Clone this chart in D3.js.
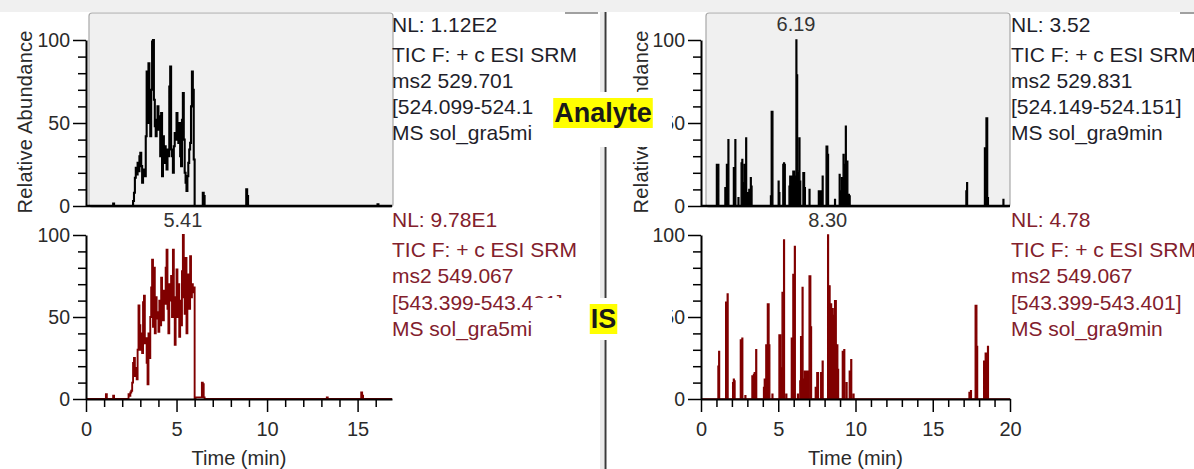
<!DOCTYPE html>
<html><head><meta charset="utf-8">
<script src="https://cdn.jsdelivr.net/npm/d3@7"></script>
<style>
body{margin:0;background:#fff;}
svg{display:block;font-family:"Liberation Sans",Arial,sans-serif;}
</style>
</head><body>
<svg id="c" width="1194" height="469"></svg>
<script>
// ---------------- DATA ----------------
const yTickValues = [0, 50, 100];
const xTicksLeft = [0, 5, 10, 15];
const xTicksRight = [0, 5, 10, 15, 20];
const xMaxLeft = 16.9;
const xMaxRight = 20;

// [time (min), relative abundance (%)]
const analyte5 = [[0,0],[1.45,0],[1.5,1.5],[1.55,0],[2.55,0],
 [2.6,3],[2.65,8],[2.7,17],[2.75,23],[2.8,19],[2.85,26],[2.9,21],[2.95,30],[3.0,32],[3.05,24],
 [3.1,14],[3.15,20],[3.2,22],[3.25,18],[3.3,42],[3.35,81],[3.4,50],[3.45,86],[3.5,60],[3.55,42],
 [3.6,70],[3.65,99],[3.7,100],[3.75,64],[3.8,48],[3.85,42],[3.9,52],[3.95,60],[4.0,46],[4.05,54],
 [4.1,30],[4.15,56],[4.2,18],[4.25,42],[4.3,26],[4.35,36],[4.4,30],[4.45,22],[4.5,34],[4.55,30],
 [4.6,72],[4.65,84],[4.7,34],[4.75,30],[4.8,20],[4.85,36],[4.9,44],[4.95,40],[5.0,56],[5.05,46],
 [5.1,38],[5.15,50],[5.2,30],[5.25,24],[5.3,52],[5.35,68],[5.4,40],[5.45,20],[5.5,14],[5.55,9],
 [5.6,18],[5.65,26],[5.7,34],[5.75,38],[5.8,60],[5.85,81],[5.9,70],[5.95,28],[6.0,0],
 [6.4,0],[6.45,8],[6.5,6],[6.55,0],[8.8,0],[8.85,10],[8.9,6],[8.95,0],
 [16.05,0],[16.1,1],[16.15,0],[16.9,0]];

const is5 = [[0,0],[1.05,0],[1.1,3],[1.15,0],[1.45,0],[1.5,2],[1.55,0],[2.3,0],
 [2.35,3],[2.4,2],[2.45,4],[2.5,5],[2.55,10],[2.6,22],[2.65,25],[2.7,14],[2.75,19],[2.8,12],
 [2.85,30],[2.9,57],[2.95,45],[3.0,30],[3.05,40],[3.1,28],[3.15,59],[3.2,63],[3.25,34],[3.3,37],
 [3.35,22],[3.4,9],[3.45,40],[3.5,25],[3.55,50],[3.6,68],[3.65,85],[3.7,44],[3.75,80],[3.8,40],
 [3.85,62],[3.9,49],[3.95,53],[4.0,41],[4.05,60],[4.1,45],[4.15,74],[4.2,55],[4.25,48],[4.3,66],
 [4.35,58],[4.4,80],[4.45,91],[4.5,55],[4.55,40],[4.6,70],[4.65,60],[4.7,75],[4.75,50],[4.8,91],
 [4.85,55],[4.9,33],[4.95,62],[5.0,79],[5.05,50],[5.1,70],[5.15,38],[5.2,60],[5.25,45],[5.3,78],
 [5.35,100],[5.4,62],[5.45,52],[5.5,86],[5.55,40],[5.6,65],[5.65,76],[5.7,55],[5.75,87],[5.8,62],
 [5.85,70],[5.9,65],[5.95,68],[6.0,0],[6.05,1],[6.35,1],[6.4,10],[6.45,9],[6.5,1],[6.55,0],
 [13.25,0],[13.3,1],[13.35,0],[15.15,0],[15.2,4],[15.25,2],[15.3,0],[16.9,0]];

const analyte9 = [[0,0],[0.95,0],[1.0,25],[1.05,24],[1.1,25],[1.15,0],[1.5,0],[1.55,11],[1.65,25],
 [1.75,40],[1.8,0],[2.05,0],[2.1,23],[2.2,40],[2.25,0],[2.4,5],[2.45,0],[2.55,0],[2.6,26],[2.65,28],
 [2.7,14],[2.8,25],[2.9,41],[2.95,8],[3.05,0],[3.1,10],[3.2,17],[3.25,12],[3.3,0],[4.45,0],[4.5,6],
 [4.55,57],[4.6,57],[4.65,0],[4.95,0],[5.0,15],[5.05,8],[5.1,0],[5.3,25],[5.35,26],[5.4,25],[5.45,0],
 [5.7,12],[5.75,18],[5.8,10],[5.85,18],[5.95,21],[6.05,18],[6.15,100],[6.2,79],[6.25,21],[6.35,41],
 [6.4,15],[6.45,0],[6.55,0],[6.6,20],[6.7,11],[6.75,0],[7.0,10],[7.05,0],[7.6,9],[7.7,9],[7.85,18],
 [7.9,0],[8.05,0],[8.1,36],[8.2,31],[8.25,0],[8.65,4],[8.7,0],[8.95,19],[9.0,9],[9.1,17],[9.2,31],
 [9.25,25],[9.35,48],[9.4,27],[9.5,7],[9.6,6],[9.65,0],[17.15,9],[17.2,14],[17.25,0],[18.35,35],
 [18.45,53],[18.55,5],[18.6,0],[19.55,4],[19.6,0],[20,0]];

const is9 = [[0,0],[1.05,0],[1.1,20],[1.15,29],[1.2,0],[1.55,0],[1.6,59],[1.7,64],[1.75,0],[2.0,0],
 [2.05,10],[2.1,12],[2.15,11],[2.2,0],[2.5,0],[2.55,36],[2.65,37],[2.7,0],[2.85,2],[2.9,0],[3.25,0],
 [3.3,14],[3.4,15],[3.45,16],[3.55,30],[3.6,0],[4.0,0],[4.05,7],[4.1,12],[4.2,33],[4.3,58],[4.4,33],
 [4.45,0],[4.6,3],[4.65,0],[5.0,0],[5.05,39],[5.15,19],[5.25,65],[5.35,97],[5.4,0],[5.5,3],[5.55,0],
 [5.8,0],[5.85,37],[5.95,76],[6.05,93],[6.1,0],[6.25,3],[6.3,0],[6.4,11],[6.45,38],[6.55,68],[6.6,12],
 [6.7,17],[6.85,17],[6.95,0],[7.0,75],[7.1,44],[7.15,0],[7.4,7],[7.5,16],[7.6,0],[7.75,16],[7.85,23],
 [7.9,0],[8.2,100],[8.25,69],[8.35,58],[8.45,55],[8.55,51],[8.65,60],[8.75,33],[8.85,18],[8.9,0],
 [9.15,29],[9.25,30],[9.3,0],[9.4,10],[9.45,0],[9.6,17],[9.7,24],[9.75,0],[9.85,3],[9.9,0],[17.35,4],
 [17.45,5],[17.5,0],[17.75,57],[17.85,32],[17.9,0],[18.3,23],[18.4,28],[18.55,32],[18.6,0],[20,0]];

const peakLabels = { analyte5: null, is5: "5.41", analyte9: "6.19", is9: "8.30" };

const analyte5Info = ["NL: 1.12E2", "TIC F: + c ESI SRM", "ms2 529.701", "[524.099-524.101]", "MS sol_gra5min"];
const is5Info = ["NL: 9.78E1", "TIC F: + c ESI SRM", "ms2 549.067", "[543.399-543.401]", "MS sol_gra5min"];
const analyte9Info = ["NL: 3.52", "TIC F: + c ESI SRM", "ms2 529.831", "[524.149-524.151]", "MS sol_gra9min"];
const is9Info = ["NL: 4.78", "TIC F: + c ESI SRM", "ms2 549.067", "[543.399-543.401]", "MS sol_gra9min"];

const yLabel = "Relative Abundance";
const xLabel = "Time (min)";
const tagLabels = ["Analyte", "IS"];

// ---------------- DRAW ----------------
const svg = d3.select("#c");
svg.append("rect").attr("x",0).attr("y",0).attr("width",1194).attr("height",469).attr("fill","#fff");
svg.append("rect").attr("x",0).attr("y",0).attr("width",1194).attr("height",12).attr("fill","#f0f0f0");

const BLACK = "#000";
const RED = "#800000";
const RED_TXT = "#82202c";

const panels = [
  { x0: 86, x1: 392, tmax: xMaxLeft, ticks: xTicksLeft, ylabX: 32, textX: 392,
    top: analyte5, bot: is5, topInfo: analyte5Info, botInfo: is5Info, filled: false,
    topPeak: peakLabels.analyte5, botPeak: peakLabels.is5, boxX0: 89, boxX1: 393 },
  { x0: 701, x1: 1010, tmax: xMaxRight, ticks: xTicksRight, ylabX: 648, textX: 1011,
    top: analyte9, bot: is9, topInfo: analyte9Info, botInfo: is9Info, filled: true,
    topPeak: peakLabels.analyte9, botPeak: peakLabels.is9, boxX0: 706, boxX1: 1010 }
];

const yTop = d3.scaleLinear().domain([0,100]).range([206,40]);
const yBot = d3.scaleLinear().domain([0,100]).range([399,235]);

function drawYAxis(g, x0, ys) {
  const ax = d3.axisLeft(ys).tickValues(d3.range(0,101,10)).tickSizeInner(8).tickSizeOuter(0)
     .tickPadding(8).tickFormat(d => yTickValues.includes(d) ? d : "");
  const ga = g.append("g").attr("transform", `translate(${x0},0)`).call(ax);
  ga.attr("font-family", null).attr("font-size", null);
  ga.select(".domain").attr("stroke", "#000").attr("stroke-width", 2);
  ga.selectAll(".tick line").attr("stroke","#000").attr("stroke-width",1.5);
  ga.selectAll(".tick").filter(d => yTickValues.includes(d)).select("line").attr("x2", -13);
  ga.selectAll(".tick text").attr("font-size", 19.5).attr("fill", "#2a2a2a");
}

function drawTrace(g, data, xs, ys, color, w, filled) {
  if (filled) {
    const area = d3.area().x(d => xs(d[0])).y0(ys(0)).y1(d => ys(d[1])).curve(d3.curveStepAfter);
    g.append("path").datum(data).attr("d", area).attr("fill", color).attr("stroke","none");
  }
  const line = d3.line().x(d => xs(d[0])).y(d => ys(d[1])).curve(d3.curveStepAfter);
  g.append("path").datum(data).attr("d", line).attr("fill","none")
    .attr("stroke", color).attr("stroke-width", w).attr("stroke-linejoin","miter");
}

function peakText(g, data, label, xs, ys, y) {
  if (!label) return;
  const m = data.reduce((a,b) => b[1] > a[1] ? b : a);
  g.append("text").attr("x", xs(m[0])).attr("y", y).attr("text-anchor","middle")
   .attr("font-size", 20).attr("fill","#333").text(label);
}

function infoText(g, x, lines, baselines, color) {
  lines.forEach((t,i) => {
    g.append("text").attr("x", x).attr("y", baselines[i]).attr("font-size", 21)
      .attr("fill", color).text(t);
  });
}

panels.forEach(p => {
  const g = svg.append("g");
  const xs = d3.scaleLinear().domain([0, p.tmax]).range([p.x0, p.x1]);

  // selection box of the upper chromatogram
  g.append("rect").attr("x", p.boxX0).attr("y", 13).attr("width", p.boxX1 - p.boxX0)
    .attr("height", 194).attr("rx", 3).attr("fill", "#f0f0f0").attr("stroke", "#a8a8a8").attr("stroke-width", 1.2);

  // upper (analyte)
  drawTrace(g, p.top, xs, yTop, BLACK, p.filled ? 1.4 : 2.1, p.filled);
  g.append("line").attr("x1", p.x0).attr("x2", p.x1).attr("y1", yTop(0)).attr("y2", yTop(0))
    .attr("stroke","#000").attr("stroke-width",2.5);
  drawYAxis(g, p.x0, yTop);
  peakText(g, p.top, p.topPeak, xs, yTop, 31);

  // lower (IS)
  drawTrace(g, p.bot, xs, yBot, RED, p.filled ? 1.4 : 1.9, p.filled);
  drawYAxis(g, p.x0, yBot);
  const xa = d3.axisBottom(xs).tickValues(d3.range(0, Math.floor(p.tmax) + 1, 1)).tickSizeInner(8).tickSizeOuter(0)
     .tickPadding(15).tickFormat(d => p.ticks.includes(d) ? d : "");
  const gx = g.append("g").attr("transform", `translate(0,${yBot(0)})`).call(xa);
  gx.attr("font-family", null).attr("font-size", null);
  gx.select(".domain").attr("stroke","#000").attr("stroke-width",2);
  gx.selectAll(".tick line").attr("stroke","#000").attr("stroke-width",1.5);
  gx.selectAll(".tick").filter(d => p.ticks.includes(d)).select("line").attr("y2", 13);
  gx.selectAll(".tick text").attr("font-size", 20).attr("fill","#2a2a2a");
  peakText(g, p.bot, p.botPeak, xs, yBot, 227);

  // axis titles
  g.append("text").attr("transform", `translate(${p.ylabX},122) rotate(-90)`)
    .attr("text-anchor","middle").attr("font-size",20).attr("fill","#2a2a2a")
    .attr("textLength", 183).attr("lengthAdjust","spacing").text(yLabel);
  g.append("text").attr("x", (p.x0 + p.x1) / 2).attr("y", 465).attr("text-anchor","middle")
    .attr("font-size",20).attr("fill","#2a2a2a").text(xLabel);

  // info blocks
  infoText(g, p.textX, p.topInfo, [32, 62, 88, 114, 140], "#1e1e2a");
  infoText(g, p.textX, p.botInfo, [227, 257, 283, 310, 336], RED_TXT);
});

// panel edges and divider
svg.append("line").attr("x1",565).attr("x2",598).attr("y1",13).attr("y2",13).attr("stroke","#a0a0a0").attr("stroke-width",2);
svg.append("line").attr("x1",1180).attr("x2",1194).attr("y1",13).attr("y2",13).attr("stroke","#a0a0a0").attr("stroke-width",2);
svg.append("rect").attr("x",600).attr("y",12).attr("width",4).attr("height",457).attr("fill","#ebebeb");
svg.append("line").attr("x1",605.5).attr("x2",605.5).attr("y1",12).attr("y2",469).attr("stroke","#3a3a3a").attr("stroke-width",2);

// tag labels on white patches
const tags = [
  { label: tagLabels[0], patch: [533, 92, 139, 55], cx: 603, base: 122 },
  { label: tagLabels[1], patch: [533, 298, 139, 42], cx: 603.5, base: 328 }
];
tags.forEach(t => {
  svg.append("rect").attr("x", t.patch[0]).attr("y", t.patch[1]).attr("width", t.patch[2])
    .attr("height", t.patch[3]).attr("fill", "#fff");
  const bg = svg.append("rect").attr("fill", "#ffff00");
  const tx = svg.append("text").attr("x", t.cx).attr("y", t.base).attr("text-anchor","middle")
    .attr("font-size", 27).attr("font-weight","bold").attr("fill","#1a1a1a").text(t.label);
  const bb = tx.node().getBBox();
  bg.attr("x", bb.x - 1).attr("y", bb.y).attr("width", bb.width + 2).attr("height", bb.height);
});
</script>
</body></html>
